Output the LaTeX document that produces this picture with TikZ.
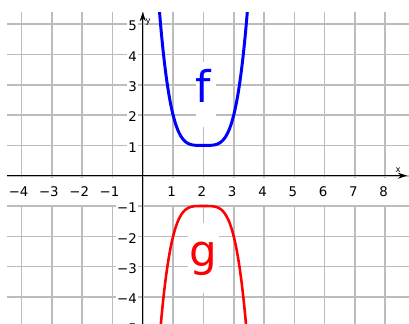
\documentclass[tikz,border=0pt]{standalone}
\usepackage{fontspec}
\setmainfont{DejaVu Sans}
\usetikzlibrary{arrows.meta}
\definecolor{gridc}{RGB}{188,188,188}
\definecolor{fblue}{RGB}{0,0,255}
\definecolor{gred}{RGB}{255,0,0}
\begin{document}
\begin{tikzpicture}[x=1cm,y=1cm,
  gridline/.style={gridc,line width=1.5pt},
  axisline/.style={black,line width=1.1pt,-{Stealth[length=3mm,width=2mm]}},
  xlab/.style={fill=white,minimum height=0.88cm,minimum width=0.95cm,inner sep=0pt,font=\fontsize{12.5}{12.5}\selectfont},
  ylab/.style={fill=white,anchor=east,inner sep=1.5pt,font=\fontsize{12.5}{12.5}\selectfont},
  biglab/.style={anchor=base,inner sep=0pt,font=\fontsize{41}{41}\selectfont},
  axname/.style={inner sep=0pt,font=\fontsize{8}{8}\selectfont},
  fcurve/.style={fblue,line width=2.8pt},
  gcurve/.style={gred,line width=2.4pt}]
\useasboundingbox (-4.713,-4.861) rectangle (8.785,5.799);
% grid
\foreach \i in {-4,...,8} \draw[gridline] (\i,-4.9) -- (\i,5.40);
\foreach \j in {-4,...,5} \draw[gridline] (-4.48,\j) -- (8.80,\j);
% x labels
\foreach \i in {-4,...,-1} \node[xlab] (xl\i) at (\i-0.1,-0.525) {−\the\numexpr-\i\relax};
\foreach \i in {1,...,8} \node[xlab] (xl\i) at (\i-0.05,-0.525) {\i};
% y labels
\foreach \j in {1,...,5} \node[ylab] (yl\j) at (-0.14,\j-0.06) {\j};
\foreach \j in {-5,...,-1} \node[ylab] (yl\j) at (-0.14,\j-0.06) {−\the\numexpr-\j\relax};
% label backgrounds
\fill[white] (1.746,1.61) rectangle (2.42,3.75);
\fill[white] (1.48,-1.56) rectangle (2.51,-3.87);
% axes
\coordinate (xs) at (-4.48,0);
\coordinate (xe) at (8.72,0);
\coordinate (ys) at (0,-4.9);
\coordinate (ye) at (0,5.40);
\draw[axisline] (xs) -- (xe);
\draw[axisline] (ys) -- (ye);
\node[axname] (xn) at (8.43,0.17) {x};
\node[axname] (yn) at (0.18,5.08) {y};
% curves
\begin{scope}
\clip (-4.713,-4.861) rectangle (8.785,5.40);
\draw[fcurve] plot[domain=0.55:3.45,samples=120,smooth] (\x,{(\x-2)^4+1});
\draw[gcurve] plot[domain=0.58:3.42,samples=120,smooth] (\x,{-(\x-2)^4-1});
\end{scope}
\node[biglab,fblue] (fl) at (2,2.43) {f};
\node[biglab,gred] (gl) at (2,-3.01) {g};
\end{tikzpicture}
\end{document}
